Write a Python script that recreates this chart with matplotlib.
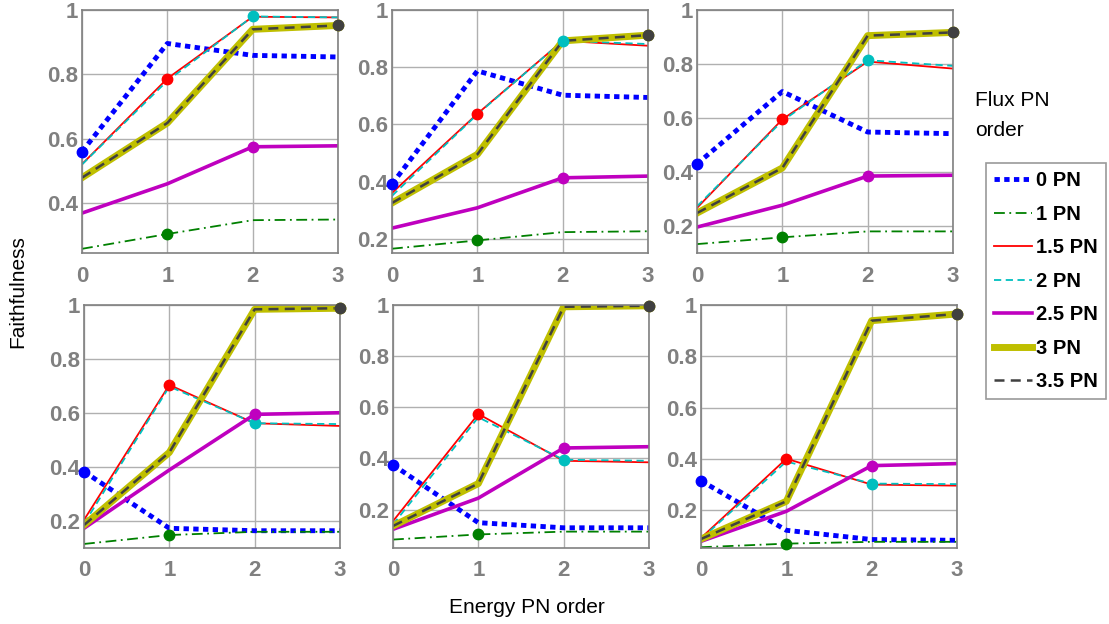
import matplotlib
matplotlib.use("Agg")
import matplotlib.pyplot as plt
from matplotlib.ticker import FuncFormatter

plt.rcParams['font.family'] = ['Liberation Sans', 'DejaVu Sans']

energy = [0, 1, 2, 3]
flux_labels = ['0 PN', '1 PN', '1.5 PN', '2 PN', '2.5 PN', '3 PN', '3.5 PN']
# index of energy order where each flux curve gets its dot
dot_at = [0, 1, 1, 2, 2, 3, 3]

# faithfulness values, one list per flux order, per panel
panel_a = [[0.56, 0.896, 0.859, 0.854],
           [0.258, 0.304, 0.347, 0.349],
           [0.521, 0.787, 0.979, 0.977],
           [0.52, 0.78, 0.98, 0.977],
           [0.369, 0.460, 0.575, 0.578],
           [0.479, 0.649, 0.94, 0.952],
           [0.479, 0.649, 0.94, 0.952]]
panel_b = [[0.391, 0.787, 0.702, 0.694],
           [0.165, 0.194, 0.223, 0.226],
           [0.36, 0.637, 0.892, 0.875],
           [0.35, 0.635, 0.892, 0.881],
           [0.237, 0.308, 0.413, 0.419],
           [0.325, 0.495, 0.892, 0.912],
           [0.325, 0.495, 0.892, 0.912]]
panel_c = [[0.430, 0.698, 0.548, 0.542],
           [0.133, 0.158, 0.180, 0.180],
           [0.267, 0.595, 0.809, 0.783],
           [0.273, 0.589, 0.814, 0.793],
           [0.196, 0.277, 0.385, 0.388],
           [0.248, 0.415, 0.905, 0.917],
           [0.248, 0.415, 0.905, 0.917]]
panel_d = [[0.383, 0.173, 0.164, 0.164],
           [0.115, 0.148, 0.160, 0.160],
           [0.204, 0.704, 0.562, 0.552],
           [0.19, 0.698, 0.562, 0.559],
           [0.173, 0.389, 0.595, 0.601],
           [0.185, 0.454, 0.984, 0.988],
           [0.185, 0.454, 0.984, 0.988]]
panel_e = [[0.375, 0.149, 0.129, 0.129],
           [0.083, 0.103, 0.114, 0.114],
           [0.155, 0.574, 0.391, 0.385],
           [0.142, 0.561, 0.395, 0.391],
           [0.123, 0.245, 0.441, 0.446],
           [0.136, 0.302, 0.993, 0.997],
           [0.136, 0.302, 0.993, 0.997]]
panel_f = [[0.315, 0.122, 0.086, 0.083],
           [0.056, 0.070, 0.077, 0.077],
           [0.092, 0.401, 0.300, 0.296],
           [0.088, 0.39, 0.304, 0.302],
           [0.079, 0.196, 0.374, 0.382],
           [0.088, 0.235, 0.939, 0.965],
           [0.088, 0.235, 0.939, 0.965]]
panels = [panel_a, panel_b, panel_c, panel_d, panel_e, panel_f]
y_lower = [0.245, 0.15, 0.1, 0.1, 0.05, 0.053]

colors = ['#0000ff', '#008000', '#ff0000', '#00bfbf', '#bf00bf', '#bfbf00', '#404040']
widths = [3.5, 1.3, 1.3, 1.3, 2.6, 5.0, 1.8]
styles = [(0, (1.1, 0.9)), (0, (6, 2.5, 1, 2.5)), '-', (0, (4, 2.5)), '-', '-', (0, (4, 2.5))]

fig = plt.figure(figsize=(11.09, 6.24), dpi=100)

rects = [(82, 10), (392, 10), (697, 10), (84, 305), (393, 305), (701, 305)]
W, H = 256, 243
for (px, py), data, ylo in zip(rects, panels, y_lower):
    ax = fig.add_axes([px / 1109, (624 - py - H) / 624, W / 1109, H / 624])
    lines = []
    for vals, c, lw, ls in zip(data, colors, widths, styles):
        ln, = ax.plot(energy, vals, color=c, lw=lw, linestyle=ls)
        lines.append(ln)
    for vals, c, k in zip(data, colors, dot_at):
        ax.plot(energy[k], vals[k], 'o', color=c, ms=7.5, zorder=5, clip_on=False)
    ax.set_xlim(0, 3)
    ax.set_ylim(ylo, 1.0)
    ax.set_xticks(energy)
    ax.set_yticks([t for t in [0.2, 0.4, 0.6, 0.8, 1.0] if t >= ylo])
    ax.yaxis.set_major_formatter(FuncFormatter(lambda v, p: f"{v:g}"))
    ax.grid(True, color='#b0b0b0', lw=1)
    ax.set_axisbelow(True)
    for s in ax.spines.values():
        s.set_color('#808080')
        s.set_linewidth(1.2)
    ax.tick_params(length=0, labelsize=16, labelcolor='#808080')
    ax.tick_params(axis='x', pad=9)
    ax.tick_params(axis='y', pad=3)
    for lab in ax.get_xticklabels() + ax.get_yticklabels():
        lab.set_fontweight('bold')

fig.text(0.016, 0.532, 'Faithfulness', rotation=90, fontsize=15, va='center', ha='center')
fig.text(0.475, 0.027, 'Energy PN order', fontsize=15, ha='center', va='center')

fig.text(975 / 1109, 1 - 100 / 624, 'Flux PN', fontsize=15, va='center')
fig.text(975 / 1109, 1 - 130 / 624, 'order', fontsize=15, va='center')

leg = fig.legend(lines, flux_labels, loc='upper left',
                 bbox_to_anchor=(986 / 1109, 1 - 163 / 624),
                 prop={'weight': 'bold', 'size': 14.5}, handlelength=1.9,
                 handletextpad=0.2, labelspacing=0.72, borderpad=0.4,
                 fancybox=False, edgecolor='#808080', borderaxespad=0)
leg.get_frame().set_linewidth(1.2)

fig.savefig('out.png', dpi=100)
